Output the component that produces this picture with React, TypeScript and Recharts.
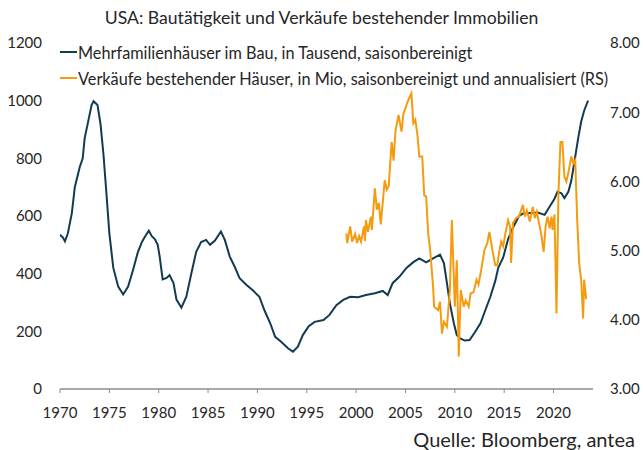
import React from 'react';
import { LineChart, Line, XAxis, YAxis } from 'recharts';

// Mehrfamilienhäuser im Bau (Tsd.), linke Achse
const multiYears = [
  1970.0, 1970.3, 1970.5, 1970.8, 1971.2, 1971.5, 1972.0, 1972.3, 1972.5, 1972.9,
  1973.2, 1973.4, 1973.8, 1974.1, 1974.4, 1974.7, 1975.0, 1975.4, 1975.9, 1976.4,
  1976.9, 1977.4, 1977.9, 1978.3, 1978.6, 1979.0, 1979.3, 1979.6, 1979.9, 1980.1,
  1980.4, 1980.8, 1981.1, 1981.5, 1981.8, 1982.3, 1982.8, 1983.3, 1983.8, 1984.3,
  1984.8, 1985.2, 1985.7, 1986.3, 1986.7, 1987.2, 1987.7, 1988.2, 1988.9, 1989.5,
  1990.2, 1990.7, 1991.3, 1991.8, 1992.4, 1993.1, 1993.6, 1994.1, 1994.6, 1995.2,
  1995.8, 1996.7, 1997.3, 1998.0, 1998.7, 1999.4, 2000.2, 2001.0, 2001.9, 2002.7,
  2003.2, 2003.7, 2004.4, 2005.1, 2005.8, 2006.4, 2007.1, 2007.8, 2008.5, 2008.9,
  2009.2, 2009.5, 2009.9, 2010.2, 2010.5, 2011.0, 2011.5, 2012.0, 2012.6, 2013.1,
  2013.6, 2014.1, 2014.4, 2014.9, 2015.4, 2015.9, 2016.5, 2017.0, 2017.7, 2018.4,
  2019.1, 2019.6, 2020.1, 2020.4, 2020.8, 2021.1, 2021.5, 2021.8, 2022.2, 2022.5,
  2022.8, 2023.1, 2023.5,
];
const multiValues = [
  535, 525, 512, 540, 610, 700, 770, 800, 870, 935,
  985, 998, 985, 920, 815, 680, 540, 420, 355, 328,
  355, 413, 476, 510, 528, 549, 530, 520, 500, 459,
  380, 385, 395, 367, 310, 282, 320, 400, 476, 510,
  517, 500, 515, 546, 517, 459, 424, 384, 361, 343,
  320, 274, 228, 181, 164, 141, 129, 147, 187, 218,
  233, 239, 257, 291, 309, 320, 318, 326, 332, 340,
  326, 367, 390, 420, 440, 453, 439, 453, 466, 436,
  367, 297, 228, 187, 176, 168, 170, 195, 228, 274,
  320, 375, 420, 456, 520, 560, 600, 610, 610, 612,
  604, 632, 660, 684, 679, 662, 684, 722, 806, 870,
  927, 965, 1000,
];

// Verkäufe bestehender Häuser (Mio.), rechte Achse
const salesYears = [
  1999.0, 1999.1, 1999.4, 1999.6, 1999.9, 2000.1, 2000.3, 2000.5, 2000.8, 2000.9,
  2001.0, 2001.2, 2001.5, 2001.6, 2001.9, 2002.1, 2002.3, 2002.5, 2002.9, 2003.1,
  2003.3, 2003.6, 2003.8, 2003.9, 2004.0, 2004.3, 2004.6, 2004.8, 2005.1, 2005.3,
  2005.6, 2005.8, 2006.0, 2006.2, 2006.4, 2006.7, 2006.9, 2007.1, 2007.3, 2007.5,
  2007.8, 2007.9, 2008.3, 2008.5, 2008.7, 2008.9, 2009.2, 2009.5, 2009.7, 2010.0,
  2010.2, 2010.4, 2010.6, 2010.9, 2011.1, 2011.4, 2011.6, 2011.9, 2012.2, 2012.4,
  2012.7, 2013.0, 2013.3, 2013.5, 2013.8, 2014.1, 2014.3, 2014.5, 2014.7, 2014.9,
  2015.1, 2015.4, 2015.6, 2015.7, 2015.9, 2016.2, 2016.5, 2016.9, 2017.1, 2017.3,
  2017.6, 2017.9, 2018.1, 2018.3, 2018.6, 2018.8, 2019.0, 2019.2, 2019.4, 2019.6,
  2019.8, 2019.9, 2020.1, 2020.3, 2020.5, 2020.7, 2020.9, 2021.1, 2021.3, 2021.5,
  2021.8, 2022.0, 2022.2, 2022.4, 2022.6, 2022.8, 2023.0, 2023.1, 2023.3, 2023.4,
];
const salesValues = [
  5.25, 5.11, 5.35, 5.13, 5.24, 5.11, 5.21, 5.13, 5.35, 5.14,
  5.44, 5.27, 5.49, 5.30, 5.90, 5.59, 5.69, 5.38, 6.02, 5.88,
  5.93, 6.57, 6.30, 6.53, 6.74, 6.96, 6.72, 6.98, 7.10, 7.18,
  7.27, 6.84, 6.89, 6.69, 6.36, 6.36, 5.80, 5.78, 5.25, 5.01,
  4.48, 4.19, 4.14, 4.26, 3.80, 3.97, 3.90, 4.43, 5.44, 4.19,
  4.86, 3.47, 4.43, 4.19, 4.28, 4.19, 4.38, 4.40, 4.58, 4.51,
  4.74, 5.01, 5.11, 5.27, 5.01, 4.79, 4.79, 4.98, 5.13, 5.06,
  5.23, 5.44, 5.35, 4.82, 5.40, 5.47, 5.49, 5.66, 5.49, 5.58,
  5.42, 5.63, 5.47, 5.56, 5.35, 5.20, 4.98, 5.35, 5.49, 5.32,
  5.49, 5.30, 5.52, 4.09, 5.83, 6.57, 6.57, 6.07, 6.00, 6.12,
  6.36, 6.26, 6.31, 5.44, 4.82, 4.58, 4.02, 4.58, 4.31, 4.31,
];

const yearTicks = [1970, 1975, 1980, 1985, 1990, 1995, 2000, 2005, 2010, 2015, 2020];
const leftTicks = [0, 200, 400, 600, 800, 1000, 1200];
const rightTicks = [3, 4, 5, 6, 7, 8];

const NAVY = '#123a50';
const ORANGE = '#f59b0f';
const TEXT = '#262626';
const FONT = 'Lato, "Open Sans", sans-serif';

const multiData = multiYears.map((year, i) => ({ year, v: multiValues[i] }));
const salesData = salesYears.map((year, i) => ({ year, r: salesValues[i] }));

const legendItems = [
  { color: NAVY, label: 'Mehrfamilienhäuser im Bau, in Tausend, saisonbereinigt' },
  { color: ORANGE, label: 'Verkäufe bestehender Häuser, in Mio, saisonbereinigt und annualisiert (RS)' },
];

const ChartLegend = () => (
  <div style={{ position: 'absolute', left: 60, top: 39, fontSize: 16.3, color: TEXT }}>
    {legendItems.map((item) => (
      <div key={item.label} style={{ display: 'flex', alignItems: 'center', height: 26, whiteSpace: 'nowrap' }}>
        <span style={{ width: 17, height: 2, background: item.color, marginRight: 1 }} />
        <span>{item.label}</span>
      </div>
    ))}
  </div>
);

export default function App() {
  const tickStyle = { fontFamily: FONT, fontSize: 15, fill: TEXT };
  return (
    <div style={{ position: 'absolute', left: 0, top: 0, width: 643, height: 450, background: '#fff', fontFamily: FONT, overflow: 'hidden' }}>
      <LineChart width={643} height={450} data={multiData} margin={{ top: 43, right: 0, bottom: 0, left: 0 }}>
        <XAxis
          dataKey="year"
          type="number"
          domain={[1970, 2024]}
          ticks={yearTicks}
          allowDataOverflow
          height={61}
          tick={tickStyle}
          tickSize={4}
          tickMargin={14}
          stroke="#8c8c8c"
          tickLine={{ stroke: '#8c8c8c' }}
          axisLine={{ stroke: '#8c8c8c', strokeWidth: 1.5 }}
        />
        <YAxis
          yAxisId="left"
          orientation="left"
          width={60}
          domain={[0, 1200]}
          ticks={leftTicks}
          axisLine={false}
          tickLine={false}
          tickSize={0}
          tickMargin={18}
          tick={tickStyle}
        />
        <YAxis
          yAxisId="right"
          orientation="right"
          width={50}
          domain={[3, 8]}
          ticks={rightTicks}
          axisLine={false}
          tickLine={false}
          tickSize={0}
          tickMargin={17}
          tick={{ ...tickStyle, textAnchor: 'start' }}
          tickFormatter={(v: number) => v.toFixed(2)}
        />
        <Line
          yAxisId="left"
          data={multiData}
          dataKey="v"
          stroke={NAVY}
          strokeWidth={2}
          dot={false}
          isAnimationActive={false}
        />
        <Line
          yAxisId="right"
          data={salesData}
          dataKey="r"
          stroke={ORANGE}
          strokeWidth={2}
          dot={false}
          isAnimationActive={false}
        />
      </LineChart>
      <div
        style={{
          position: 'absolute', left: 0, top: 7, width: 643, height: 22, lineHeight: '22px',
          textAlign: 'center', fontSize: 17.6, color: TEXT,
        }}
      >
        USA: Bautätigkeit und Verkäufe bestehender Immobilien
      </div>
      <ChartLegend />
      <div
        style={{
          position: 'absolute', right: 8, top: 427, lineHeight: '24px',
          fontSize: 20, color: TEXT, whiteSpace: 'nowrap',
        }}
      >
        Quelle: Bloomberg, antea
      </div>
    </div>
  );
}
